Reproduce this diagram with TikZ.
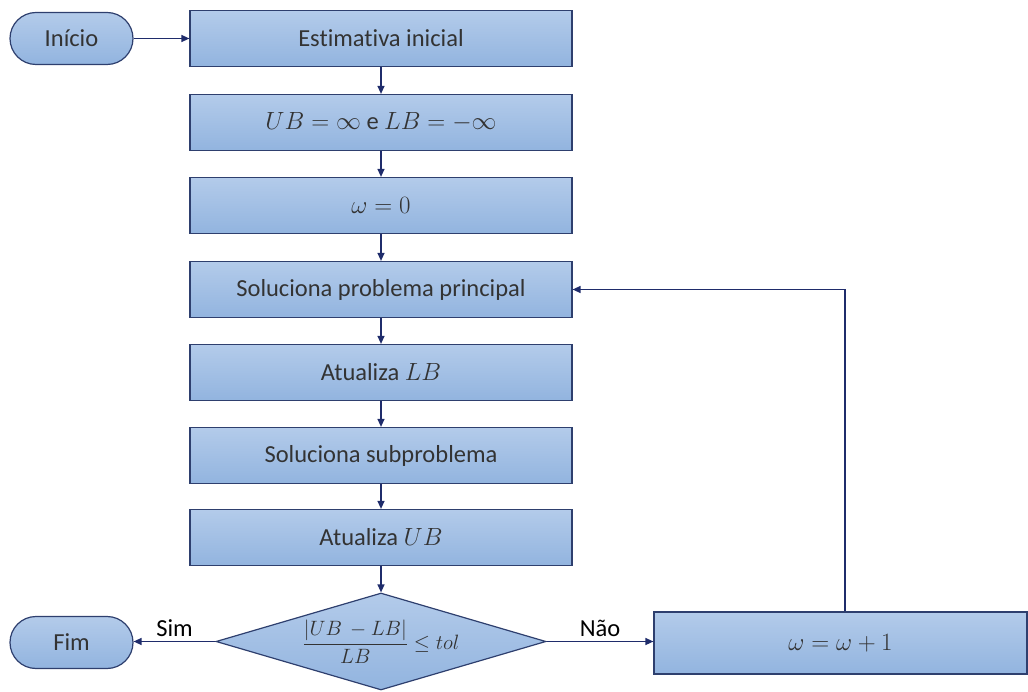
\documentclass[tikz,border=0pt]{standalone}
\usepackage{amsmath}
\usepackage{fontspec}
\setmainfont[Ligatures={NoCommon}]{Carlito}
\usetikzlibrary{arrows.meta,shapes.geometric}
\definecolor{topc}{HTML}{B3CBEA}
\definecolor{botc}{HTML}{92B4DF}
\definecolor{edge}{HTML}{2E3F6E}
\definecolor{arr}{HTML}{1F2C6B}
\definecolor{txt}{HTML}{333333}
\tikzset{
  box/.style={draw=edge, line width=1.2pt, top color=topc, bottom color=botc, minimum width=382pt, minimum height=56pt, inner sep=0pt, text=txt, font=\fontsize{24.5}{28}\selectfont},
  pill/.style={draw=edge, line width=1.2pt, top color=topc, bottom color=botc, rounded corners=26pt, minimum width=123pt, minimum height=52pt, inner sep=0pt, text=txt, font=\fontsize{24.5}{28}\selectfont},
  dec/.style={draw=edge, line width=1.2pt, top color=topc, bottom color=botc, diamond, aspect=3.4, minimum width=330pt, minimum height=97pt, inner sep=0pt, text=txt, font=\fontsize{20.5}{24}\selectfont},
  conn/.style={draw=arr, line width=1.3pt, -{Triangle[length=8pt,width=7pt]}},
  lab/.style={text=black, font=\fontsize{24.5}{28}\selectfont}
}
\begin{document}
\begin{tikzpicture}[x=1pt,y=-1pt]
\useasboundingbox (0,0) rectangle (1028,692);
\node[pill] (ini) at (71.5,38.5) {Início};
\node[box] (b1) at (381,38.5) {Estimativa inicial};
\node[box] (b2) at (381,122.5) {$UB=\infty$ e $LB=-\infty$};
\node[box] (b3) at (381,205.5) {$\omega=0$};
\node[box] (b4) at (381,289.5) {Soluciona problema principal};
\node[box] (b5) at (381,372.5) {Atualiza $LB$};
\node[box] (b6) at (381,455.5) {Soluciona subproblema};
\node[box] (b7) at (381,537.5) {Atualiza $UB$};
\node[dec] (d) at (381,641.5) {$\dfrac{|UB\,-LB|}{LB}\leq tol$};
\node[pill] (fim) at (71.5,642.5) {Fim};
\node[box, minimum width=373pt, minimum height=62pt] (inc) at (840.5,643) {$\omega=\omega+1$};
\draw[conn] (ini) -- (b1);
\draw[conn] (b1) -- (b2);
\draw[conn] (b2) -- (b3);
\draw[conn] (b3) -- (b4);
\draw[conn] (b4) -- (b5);
\draw[conn] (b5) -- (b6);
\draw[conn] (b6) -- (b7);
\draw[conn] (b7) -- (d);
\draw[conn] (d.west) -- (fim.east |- d.west) node[lab, midway, above=1pt] {Sim};
\draw[conn] (d.east) -- (inc.west |- d.east) node[lab, midway, above=1pt] {Não};
\coordinate (up) at (845,289.5);
\draw[conn] (inc.north -| up) -- (up) -- (b4.east);
\end{tikzpicture}
\end{document}
